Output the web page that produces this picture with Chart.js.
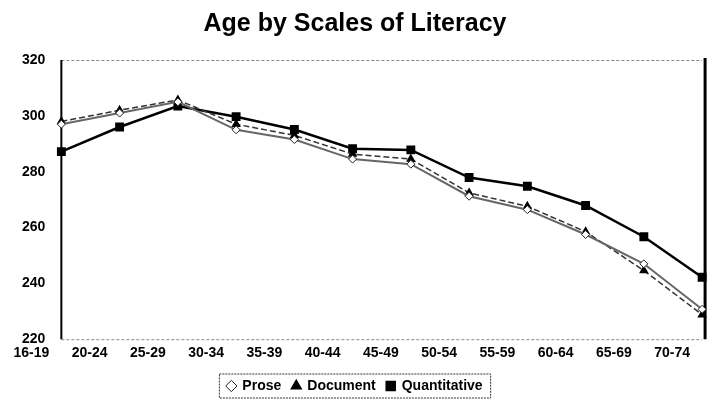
<!DOCTYPE html>
<html>
<head>
    <title>Age by Scales of Literacy</title>
    <script src="https://cdn.jsdelivr.net/npm/chart.js@4.4.3/dist/chart.umd.min.js"></script>
    <style>
        body {
            margin: 0;
            background: #fff;
            font-family: "Liberation Sans", Arial, sans-serif;
        }

        .wrap {
            width: 726px;
            height: 410px;
        }
    </style>
</head>
<body>
    <div class="wrap">
        <canvas id="litchart" width="726" height="410"></canvas>
    </div>
    <script>
        // age groups along the bottom
        const ageGroups = ['16-19', '20-24', '25-29', '30-34', '35-39', '40-44',
            '45-49', '50-54', '55-59', '60-64', '65-69', '70-74']

        // average scores
        const prose = [297, 301, 305, 295, 291.5, 284.5, 282.7, 271.2, 266.4, 257.5, 247, 230.7]
        const documentScores = [298, 302, 305.7, 297, 293, 286.3, 284.5, 272.4, 267.6, 258.5, 244.6, 228.8]
        const quantitative = [287.2, 296, 303.5, 299.7, 295.1, 288.2, 287.8, 277.9, 274.8, 267.9, 256.7, 242.2]

        const yTicks = [220, 240, 260, 280, 300, 320]

        Chart.defaults.font.family = '"Liberation Sans", Arial, sans-serif'
        Chart.defaults.color = '#000'

        // box round the legend, like the old spreadsheet one
        const legendBox = {
            id: 'legendBox',
            afterDraw(chart) {
                const lg = chart.legend
                if (!lg || !lg.legendHitBoxes.length) return
                const first = lg.legendHitBoxes[0]
                const last = lg.legendHitBoxes[lg.legendHitBoxes.length - 1]
                const ctx = chart.ctx
                ctx.save()
                ctx.strokeStyle = '#333'
                ctx.lineWidth = 1
                ctx.setLineDash([2, 1])
                ctx.strokeRect(first.left - 8, first.top - 5, last.left + last.width - first.left + 16, first.height + 10)
                ctx.restore()
            }
        }

        // plot frame: dotted top and bottom, thin left, heavy right
        const frame = {
            id: 'frame',
            beforeDatasetsDraw(chart) {
                const a = chart.chartArea
                const ctx = chart.ctx
                ctx.save()
                ctx.strokeStyle = '#888'
                ctx.lineWidth = 1
                ctx.setLineDash([3, 2])
                ctx.beginPath()
                ctx.moveTo(a.left, a.top + 0.5)
                ctx.lineTo(a.right, a.top + 0.5)
                ctx.moveTo(a.left, a.bottom + 0.5)
                ctx.lineTo(a.right, a.bottom + 0.5)
                ctx.stroke()
                ctx.setLineDash([])
                ctx.strokeStyle = '#000'
                ctx.lineWidth = 2
                ctx.beginPath()
                ctx.moveTo(a.left, a.top)
                ctx.lineTo(a.left, a.bottom)
                ctx.stroke()
                ctx.lineWidth = 3
                ctx.beginPath()
                ctx.moveTo(a.right + 3, a.top - 2)
                ctx.lineTo(a.right + 3, a.bottom)
                ctx.stroke()
                ctx.restore()
            }
        }

        new Chart(document.getElementById('litchart'), {
            type: 'line',
            data: {
                labels: ageGroups,
                datasets: [
                    {
                        label: 'Prose',
                        data: prose,
                        borderColor: '#666',
                        borderWidth: 2,
                        pointStyle: 'rectRot',
                        pointRadius: 4,
                        pointBackgroundColor: '#fff',
                        pointBorderColor: '#222',
                        pointBorderWidth: 1
                    },
                    {
                        label: 'Document',
                        data: documentScores,
                        borderColor: '#333',
                        borderWidth: 1.5,
                        borderDash: [6, 3],
                        pointStyle: 'triangle',
                        pointRadius: 4,
                        pointBackgroundColor: '#000',
                        pointBorderColor: '#000'
                    },
                    {
                        label: 'Quantitative',
                        data: quantitative,
                        borderColor: '#000',
                        borderWidth: 2.5,
                        pointStyle: 'rect',
                        pointRadius: 4.5,
                        pointBackgroundColor: '#000',
                        pointBorderColor: '#000'
                    }
                ]
            },
            options: {
                responsive: false,
                animation: false,
                layout: {
                    padding: { left: 6, right: 22, top: 0, bottom: 7 }
                },
                plugins: {
                    title: {
                        display: true,
                        text: 'Age by Scales of Literacy',
                        font: { size: 25, weight: 'bold' },
                        padding: { top: 9, bottom: 21 }
                    },
                    legend: {
                        position: 'bottom',
                        labels: {
                            usePointStyle: true,
                            boxWidth: 8,
                            boxHeight: 8,
                            padding: 11,
                            font: { size: 14, weight: 'bold' }
                        }
                    },
                    tooltip: { enabled: false }
                },
                scales: {
                    x: {
                        grid: { display: false, drawTicks: false },
                        border: { display: false },
                        ticks: {
                            maxRotation: 0,
                            autoSkip: false,
                            padding: 6,
                            labelOffset: -30,
                            font: { size: 14, weight: 'bold' }
                        }
                    },
                    y: {
                        min: 220,
                        max: 320,
                        afterBuildTicks(axis) {
                            axis.ticks = yTicks.map(v => ({ value: v }))
                        },
                        grid: { display: false, drawTicks: false },
                        border: { display: false },
                        ticks: {
                            padding: 16,
                            font: { size: 14, weight: 'bold' }
                        }
                    }
                }
            },
            plugins: [frame, legendBox]
        })
    </script>
</body>
</html>
